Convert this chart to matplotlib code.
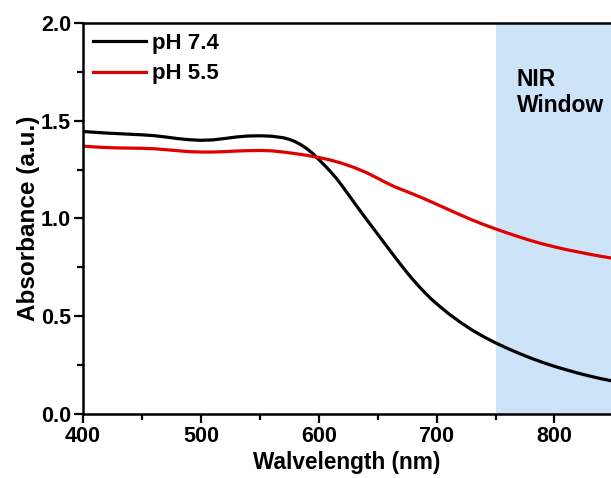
import matplotlib
matplotlib.use("Agg")
import matplotlib.pyplot as plt
from matplotlib.ticker import MultipleLocator

plt.rcParams['font.family'] = ['Liberation Sans', 'DejaVu Sans']
plt.rcParams['font.weight'] = 'bold'

# absorbance spectra (nm, a.u.)
wl_74 = [400, 410, 420, 430, 440, 450, 460, 470, 480, 490, 500, 510, 520, 530,
         540, 550, 560, 570, 575, 580, 585, 590, 595, 600, 605, 610, 615, 620,
         625, 630, 635, 640, 645, 650, 655, 660, 665, 670, 675, 680, 685, 690,
         695, 700, 710, 720, 730, 740, 750, 760, 770, 780, 790, 800, 810, 820,
         830, 840, 850]
abs_74 = [1.445, 1.441, 1.437, 1.434, 1.431, 1.428, 1.424, 1.417, 1.409, 1.403,
          1.400, 1.402, 1.409, 1.417, 1.422, 1.423, 1.421, 1.413, 1.405, 1.393,
          1.377, 1.357, 1.332, 1.302, 1.272, 1.240, 1.205, 1.166, 1.124, 1.082,
          1.041, 1.000, 0.960, 0.920, 0.880, 0.840, 0.800, 0.761, 0.723, 0.687,
          0.653, 0.621, 0.591, 0.564, 0.514, 0.470, 0.430, 0.395, 0.364, 0.336,
          0.310, 0.286, 0.264, 0.244, 0.226, 0.209, 0.194, 0.180, 0.168]

wl_55 = [400, 410, 420, 430, 440, 450, 460, 470, 480, 490, 500, 510, 520, 530,
         540, 550, 560, 570, 580, 590, 600, 610, 620, 630, 640, 650, 655, 660,
         665, 670, 680, 690, 700, 710, 720, 730, 740, 750, 760, 770, 780, 790,
         800, 810, 820, 830, 840, 850]
abs_55 = [1.370, 1.366, 1.363, 1.361, 1.360, 1.359, 1.357, 1.352, 1.347, 1.342,
          1.340, 1.340, 1.342, 1.345, 1.347, 1.348, 1.346, 1.340, 1.332, 1.323,
          1.312, 1.299, 1.282, 1.261, 1.236, 1.206, 1.190, 1.175, 1.161, 1.149,
          1.125, 1.100, 1.073, 1.046, 1.019, 0.993, 0.969, 0.947, 0.926, 0.906,
          0.887, 0.870, 0.855, 0.841, 0.829, 0.817, 0.806, 0.796]

nir_start, nir_end = 750, 850

fig = plt.figure(figsize=(6.11, 4.78), dpi=100)
ax = fig.add_axes([83 / 611, 64 / 478, 528 / 611, 391 / 478])

ax.axvspan(nir_start, nir_end, color='#cde3f8', lw=0, zorder=0)
ax.plot(wl_74, abs_74, color='black', lw=2.3, label='pH 7.4',
        solid_joinstyle='round')
ax.plot(wl_55, abs_55, color='#e00000', lw=2.3, label='pH 5.5',
        solid_joinstyle='round')

ax.text(768, 1.77, 'NIR\nWindow', fontsize=16.5, fontweight='bold',
        va='top', ha='left', linespacing=1.15)

ax.set_xlim(400, 848)
ax.set_ylim(0, 2.0)
ax.xaxis.set_major_locator(MultipleLocator(100))
ax.xaxis.set_minor_locator(MultipleLocator(50))
ax.yaxis.set_major_locator(MultipleLocator(0.5))
ax.yaxis.set_minor_locator(MultipleLocator(0.25))
ax.tick_params(which='both', direction='out', width=1.6, labelsize=15.5)
ax.tick_params(which='major', length=6.5, pad=2)
ax.tick_params(which='minor', length=4)
for lbl in ax.get_xticklabels() + ax.get_yticklabels():
    lbl.set_fontweight('bold')

for side in ['left', 'bottom', 'top']:
    ax.spines[side].set_linewidth(1.8)
ax.spines['right'].set_visible(False)

ax.set_xlabel('Walvelength (nm)', fontsize=16.3, fontweight='bold', labelpad=3)
ax.set_ylabel('Absorbance (a.u.)', fontsize=17.5, fontweight='bold', labelpad=1)

ax.legend(loc='upper left', frameon=False, handlelength=2.4,
          handletextpad=0.25, labelspacing=0.42, borderaxespad=0.05,
          bbox_to_anchor=(0.0, 1.0), prop={'weight': 'bold', 'size': 16})

fig.savefig('out.png', dpi=100)
